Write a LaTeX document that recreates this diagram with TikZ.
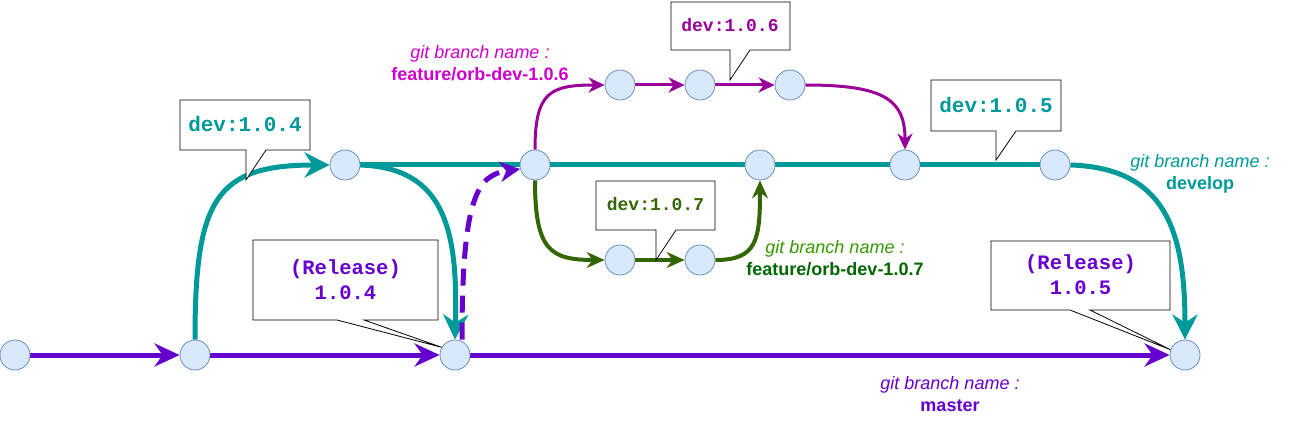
\documentclass[tikz,border=0pt]{standalone}
\usepackage{fontspec}
\setmainfont{Liberation Sans}
\newfontfamily\tagfont{Liberation Mono}
\usetikzlibrary{arrows.meta,backgrounds}
\definecolor{MasterPurple}{HTML}{6600CC}
\definecolor{DevelopTeal}{HTML}{009999}
\definecolor{FeatureMagenta}{HTML}{990099}
\definecolor{MagentaLabel}{HTML}{CC00CC}
\definecolor{FeatureGreen}{HTML}{336600}
\definecolor{GreenLabel}{HTML}{339900}
\definecolor{GreenBold}{HTML}{006600}
\definecolor{CommitFill}{HTML}{DAE8FC}
\definecolor{CommitLine}{HTML}{6C8EBF}

% callout outline: x1, y1, x2, y2, pointer left, pointer right, tip
\newcommand{\tagshape}[7]{%
  \draw[tagline] (#1,#2) -- (#3,#2) -- (#3,#4) -- (#6,#4) -- (#7) -- (#5,#4) -- (#1,#4) -- cycle;}

\begin{document}
\begin{tikzpicture}[
    x=1pt, y=-1pt,
    commit/.style={circle, draw=CommitLine, fill=CommitFill, line width=0.8pt, minimum size=30pt, inner sep=0pt},
    tagline/.style={draw=black, fill=white, line width=0.8pt},
    tagbig/.style={font=\tagfont\bfseries\fontsize{21}{25}\selectfont, align=center},
    tagsmall/.style={font=\tagfont\bfseries\fontsize{18}{22}\selectfont, align=center},
    release/.style={font=\tagfont\bfseries\fontsize{20.5}{25}\selectfont, align=center, text=MasterPurple},
    branchlabel/.style={font=\fontsize{18}{22}\selectfont, align=center},
    master/.style={MasterPurple, line width=5pt, -{Stealth[length=25pt, width=23pt, inset=8pt]}},
    develop/.style={DevelopTeal, line width=5pt},
    developarrow/.style={develop, -{Stealth[length=25pt, width=25pt, inset=8pt]}},
    feature/.style={FeatureMagenta, line width=3pt, -{Stealth[length=16pt, width=15pt, inset=5pt]}},
    hotfix/.style={FeatureGreen, line width=4pt, -{Stealth[length=18pt, width=16pt, inset=6pt]}}
  ]
    \useasboundingbox (0,0) rectangle (1291,422);

    % master
    \node[commit] (m0) at (15,355) {};
    \node[commit] (m1) at (195,355) {};
    \node[commit] (m2) at (455,355) {};
    \node[commit] (m3) at (1185,355) {};

    % develop
    \node[commit] (d1) at (345,165) {};
    \node[commit] (d2) at (535,165) {};
    \node[commit] (d3) at (760,165) {};
    \node[commit] (d4) at (905,165) {};
    \node[commit] (d5) at (1055,165) {};

    % feature/orb-dev-1.0.6
    \node[commit] (fa1) at (620,85) {};
    \node[commit] (fa2) at (700,85) {};
    \node[commit] (fa3) at (790,85) {};

    % feature/orb-dev-1.0.7
    \node[commit] (fb1) at (620,260) {};
    \node[commit] (fb2) at (700,260) {};

    \begin{scope}[on background layer]
      \draw[master] (m0) -- (m1);
      \draw[master] (m1) -- (m2);
      \draw[master] (m2) -- (m3);

      \draw[developarrow] (m1.north) .. controls (195,200) and (215,165) .. (d1.west);
      \draw[developarrow] (d1.east) .. controls (445,168) and (458,230) .. (m2.north);
      \draw[develop] (d1) -- (d2);
      \draw[develop] (d2) -- (d3);
      \draw[develop] (d3) -- (d4);
      \draw[develop] (d4) -- (d5);
      \draw[developarrow] (d5.east) .. controls (1165,168) and (1185,230) .. (m3.north);

      \draw[master, dash pattern=on 17pt off 10pt, -{Stealth[length=20pt, width=20pt, inset=6pt]}]
        (m2.north) ++(7,0) .. controls (462,195) and (478,175) .. (d2.195);

      \draw[feature] (d2.north) .. controls (535,92) and (550,85) .. (fa1.west);
      \draw[feature] (fa1) -- (fa2);
      \draw[feature] (fa2) -- (fa3);
      \draw[feature] (fa3.east) .. controls (885,85) and (905,100) .. (d4.north);

      \draw[hotfix] (d2.south) .. controls (535,250) and (550,260) .. (fb1.west);
      \draw[hotfix] (fb1) -- (fb2);
      \draw[hotfix] (fb2.east) .. controls (757,260) and (760,240) .. (d3.south);
    \end{scope}

    % tags
    \tagshape{180}{100}{310}{150}{246}{266}{246,180}
    \node[tagbig, text=DevelopTeal] (t104) at (245,124) {dev:1.0.4};

    \tagshape{253}{240}{438}{320}{337}{364}{m2.150}
    \node[release] (r104) at (345.5,280) {(Release)\\1.0.4};

    \tagshape{671}{2}{790}{50}{730}{750}{730,80}
    \node[tagsmall, text=FeatureMagenta] (t106) at (730,25) {dev:1.0.6};

    \tagshape{596}{181}{715}{230}{656}{676}{656,260}
    \node[tagsmall, text=FeatureGreen] (t107) at (655.5,204) {dev:1.0.7};

    \tagshape{931}{80}{1061}{131}{996}{1016}{996,160}
    \node[tagbig, text=DevelopTeal] (t105) at (996,105) {dev:1.0.5};

    \tagshape{991}{241}{1170}{310}{1070}{1090}{m3.160}
    \node[release] (r105) at (1080.5,275) {(Release)\\1.0.5};

    % branch names
    \node[branchlabel, text=MagentaLabel] (nfeature6) at (480,63) {\itshape git branch name :\\\bfseries feature/orb-dev-1.0.6};
    \node[branchlabel, text=DevelopTeal] (ndevelop) at (1200,174) {\itshape git branch name :\\\bfseries develop};
    \node[branchlabel] (nfeature7) at (835,258) {{\color{GreenLabel}\itshape git branch name :}\\{\color{GreenBold}\bfseries feature/orb-dev-1.0.7}};
    \node[branchlabel, text=MasterPurple] (nmaster) at (950,394) {\itshape git branch name :\\\bfseries master};
\end{tikzpicture}
\end{document}
